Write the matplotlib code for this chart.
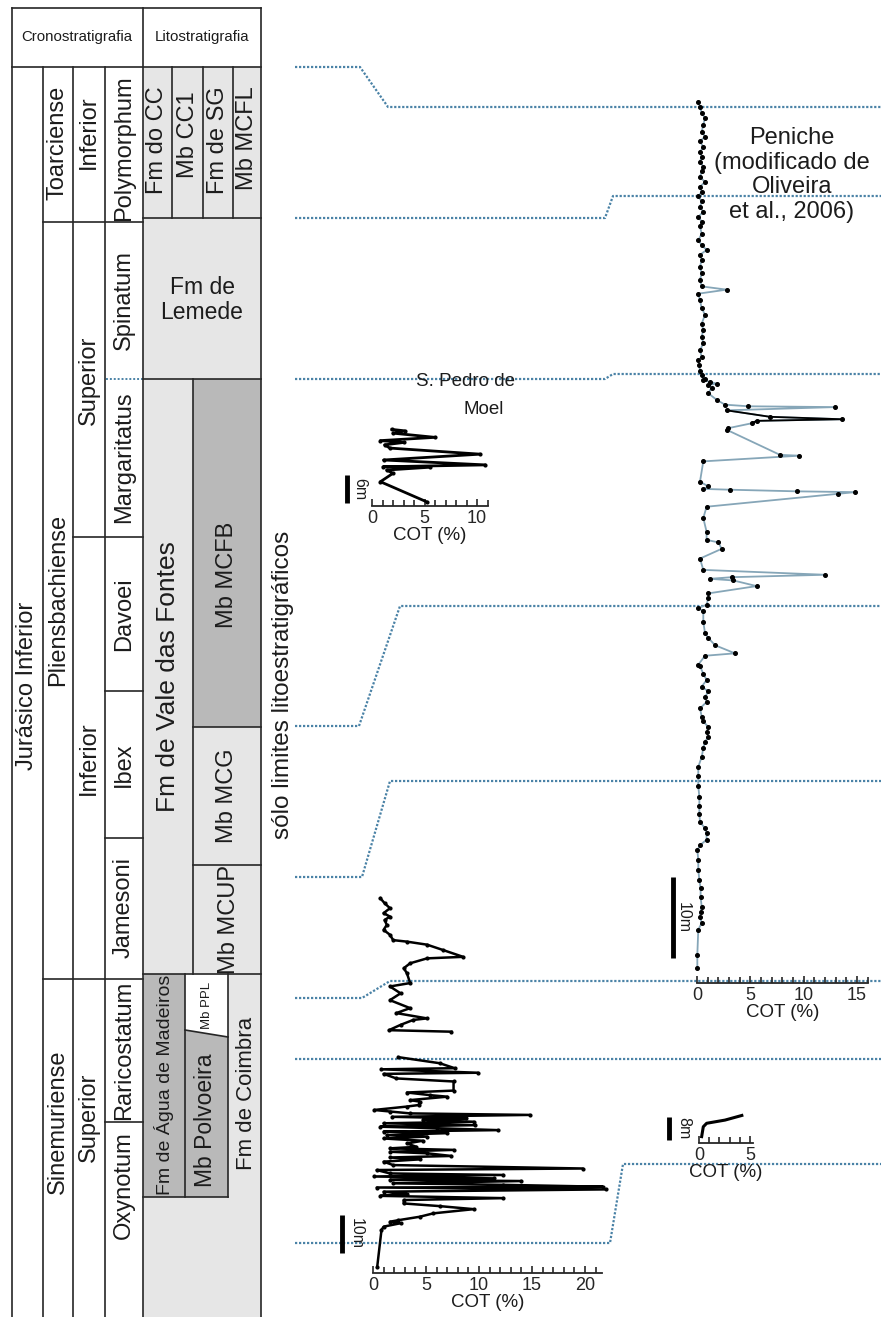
import numpy as np
import matplotlib
matplotlib.use('Agg')
import matplotlib.pyplot as plt
from matplotlib.patches import Rectangle, Polygon
from matplotlib.ticker import MultipleLocator

plt.rcParams['font.family'] = ['Liberation Sans', 'DejaVu Sans']

# ---------------- DATA ----------------
# S. Pedro de Moel, Pliensbachian interval (small profile): height (m), COT (%)
spm_plb_h = [0.9, 5.2, 7.0, 7.7, 8.3, 8.4, 8.8, 9.85, 11.1, 12.4, 13.1, 13.6, 14.0, 14.7, 15.6, 16.1, 16.4]
spm_plb_cot = [5.2, 0.8, 2.0, 1.4, 5.5, 1.05, 10.8, 1.1, 10.3, 1.7, 1.2, 3.0, 0.8, 6.0, 2.0, 3.1, 1.9]

# S. Pedro de Moel, Jamesoni interval: height (m), COT (%)
spm_jam_h = [98.6, 97.3, 96.0, 94.7, 93.8, 92.9, 91.6, 90.3, 89.0, 87.6, 87.2, 86.4, 85.0, 83.2,
             82.8, 81.5, 80.2, 78.9, 76.3, 75.4, 73.6, 71.8, 69.7, 68.4, 67.0, 66.6, 65.3, 63.9, 63.5]
spm_jam_cot = [0.7, 1.1, 1.6, 1.0, 1.6, 1.1, 1.3, 1.0, 1.6, 1.9, 3.2, 5.1, 6.6, 8.5,
               5.1, 3.5, 2.9, 3.2, 3.5, 1.6, 2.6, 1.6, 3.5, 2.2, 5.1, 3.8, 2.6, 1.5, 7.4]

# S. Pedro de Moel, Sinemurian interval: height (m), COT (%)
spm_sin_h = [56.8, 55.2, 53.9, 53.6, 52.7, 52.4, 51.2, 50.4, 48.0, 47.5, 46.8, 46.4, 45.5, 45.1,
             44.2, 43.8, 42.9, 42.5, 42.0, 41.6, 41.1, 40.7, 40.3, 39.8, 39.4, 38.9, 38.5, 38.1,
             37.6, 37.2, 36.8, 36.3, 35.9, 35.4, 34.8, 34.1, 33.2, 32.8, 32.4, 31.9, 31.5, 30.8,
             30.4, 29.9, 29.3, 28.4, 27.5, 27.1, 26.2, 25.8, 25.4, 24.9, 24.5, 24.2, 23.6, 23.2,
             22.7, 22.5, 22.0, 21.4, 20.8, 20.3, 19.7, 19.2, 18.3, 17.6, 16.8, 15.7, 14.8, 13.9,
             13.5, 13.1, 12.2, 11.3, 1.7]
spm_sin_cot = [2.4, 6.3, 7.7, 0.8, 9.9, 1.0, 2.2, 7.6, 7.6, 3.2, 5.4, 7.0, 3.5, 4.4,
               4.3, 3.2, 0.1, 1.6, 3.5, 14.8, 1.8, 8.8, 4.7, 9.5, 1.0, 9.6, 0.7, 6.0,
               11.8, 1.0, 7.0, 1.3, 5.1, 1.0, 4.7, 3.2, 4.1, 1.6, 7.6, 1.6, 5.1, 7.4,
               1.6, 4.4, 1.0, 1.9, 19.8, 0.35, 1.6, 12.3, 0.1, 11.4, 1.6, 14.0, 1.9, 12.3,
               21.7, 0.35, 22.0, 1.0, 3.2, 0.7, 12.3, 2.9, 2.9, 6.3, 9.5, 5.7, 4.4, 2.4,
               1.6, 2.6, 1.0, 0.8, 0.4]

# Peniche (modified from Oliveira et al., 2006): height (m), COT (%)
pen_h = [108.8, 108.2, 107.4, 106.8, 105.9, 105.1, 104.5, 103.9, 103.2, 102.6, 102.0, 101.4, 100.8,
         100.2, 99.5, 98.9, 98.3, 97.7, 97.1, 96.5, 95.8, 95.2, 94.6, 94.0, 93.4, 92.5, 91.7, 91.1,
         90.5, 89.9, 89.3, 88.4, 87.6, 86.8, 86.0, 85.6, 85.1, 84.3, 83.3, 82.5, 81.4, 80.6, 79.8,
         79.0, 78.1, 77.3, 76.9, 76.3, 75.5, 75.1, 74.6, 74.4, 74.2, 74.0, 73.8, 73.5, 72.8, 72.0,
         71.4, 71.2, 71.1, 70.7, 69.9, 69.6, 69.4, 69.1, 68.5, 68.3, 65.2, 65.1, 64.4, 61.9, 61.3,
         61.0, 60.9, 60.7, 60.6, 60.4, 58.8, 57.4, 55.7, 54.7, 54.4, 53.6, 52.4, 51.0, 50.4, 50.1,
         49.9, 49.7, 49.0, 48.1, 47.5, 46.7, 46.3, 45.9, 44.6, 43.2, 42.6, 41.7, 40.7, 40.4, 39.3,
         39.1, 38.2, 37.4, 36.6, 36.0, 35.3, 34.7, 33.9, 32.9, 32.3, 31.6, 31.0, 30.4, 29.8, 29.0,
         27.9, 26.7, 25.5, 24.3, 23.0, 21.8, 20.9, 19.9, 19.1, 18.5, 17.7, 17.0, 16.4, 15.2, 14.0,
         12.7, 11.7, 10.6, 9.4, 8.8, 8.2, 7.4, 6.6, 3.5, 1.8]
pen_cot = [0.12, 0.28, 0.44, 0.75, 0.59, 0.44, 0.75, 0.28, 0.59, 0.28, 0.44, 0.28, 0.59,
           0.44, 0.28, 0.75, 0.28, 0.44, 0.12, 0.44, 0.28, 0.59, 0.12, 0.44, 0.28, 0.44, 0.12, 0.44,
           0.9, 0.28, 0.44, 0.28, 0.44, 0.28, 0.44, 2.78, 0.12, 0.28, 0.44, 0.75, 0.44, 0.59, 0.44,
           0.59, 0.28, 0.44, 0.12, 0.22, 0.28, 0.44, 0.75, 0.59, 1.22, 1.84, 1.06, 1.37, 1.06, 1.84,
           2.62, 4.81, 12.93, 2.78, 6.84, 13.56, 5.59, 5.12, 2.94, 2.78, 7.78, 9.59, 0.59, 0.28, 1.06,
           0.59, 3.09, 9.34, 14.8, 13.25, 0.9, 0.59, 0.9, 0.9, 2.0, 2.31, 0.28, 0.59, 12.0, 3.25,
           1.22, 3.4, 5.59, 1.06, 1.06, 0.9, 0.12, 0.59, 0.59, 0.75, 1.06, 1.69, 3.56, 0.75, 0.12,
           0.28, 0.59, 0.9, 0.44, 1.06, 0.75, 0.9, 0.28, 0.44, 0.59, 1.06, 0.9, 1.06, 0.75, 0.59,
           0.44, 0.12, 0.12, 0.12, 0.22, 0.22, 0.22, 0.28, 0.75, 0.9, 0.9, 0.28, 0.03, 0.12, 0.12,
           0.22, 0.34, 0.34, 0.44, 0.34, 0.28, 0.44, 0.12, 0.03, 0.03]
# portion of the Peniche curve drawn in black in the original
pen_black = slice(61, 66)

# Small third profile (8 m scale): height (m), COT (%)
sm_h = [2.2, 5.6, 6.8, 7.1, 7.9, 9.5]
sm_cot = [0.26, 0.42, 0.75, 1.24, 2.55, 4.2]

cot_ticks = [0, 5, 10, 15, 20]

# chronostratigraphy / lithostratigraphy labels
chrono_labels = ["Jurásico Inferior", "Toarciense", "Pliensbachiense", "Sinemuriense",
                 "Inferior", "Superior", "Inferior", "Superior",
                 "Polymorphum", "Spinatum", "Margaritatus", "Davoei", "Ibex", "Jamesoni",
                 "Raricostatum", "Oxynotum"]
litho_labels = ["Fm do CC", "Mb CC1", "Fm de SG", "Mb MCFL", "Fm de Vale das Fontes",
                "Mb MCFB", "Mb MCG", "Mb MCUP", "Fm de Água de Madeiros", "Mb PPL",
                "Mb Polvoeira", "Fm de Coimbra"]

# ---------------- LAYOUT ----------------
W, H = 881, 1317
fig = plt.figure(figsize=(W / 100, H / 100), dpi=100)
base = fig.add_axes([0, 0, 1, 1])
base.set_xlim(0, W)
base.set_ylim(H, 0)
base.axis('off')

LINE = '#262626'
LIGHT = '#e6e6e6'
DARK = '#b9b9b9'
TXT = '#1c1c1c'
CORR = '#4a82a6'

chrono_pos = [(27, 686), (58, 143), (58, 600), (58, 1122),
              (89, 132), (89, 380), (89, 758), (89, 1117),
              (124, 148), (124, 300), (124, 457), (124, 614), (124, 765), (124, 908),
              (124, 1050), (124, 1185)]
litho_pos = [(157, 140), (188, 135), (218, 140), (247, 138), (168, 677),
             (227, 575), (227, 796), (229, 920), (164, 1085), (207, 1005),
             (206, 1120), (246, 1093)]
litho_fs = [17, 17, 17, 17, 19, 17, 17, 17, 14, 9.5, 16.5, 16]

# fills
fills = [((143, 67, 118, 151), LIGHT), ((143, 218, 118, 161), LIGHT),
         ((143, 379, 50, 595), LIGHT), ((193, 379, 68, 348), DARK),
         ((193, 727, 68, 138), LIGHT), ((193, 865, 68, 109), LIGHT),
         ((143, 974, 118, 343), LIGHT), ((143, 974, 42, 223), DARK)]
for (x, y, w, h), c in fills:
    base.add_patch(Rectangle((x, y), w, h, facecolor=c, edgecolor='none', zorder=1))
base.add_patch(Polygon([(185, 1030), (228, 1037), (228, 1197), (185, 1197)], closed=True,
                       facecolor=DARK, edgecolor='none', zorder=1))
base.add_patch(Polygon([(185, 974), (228, 974), (228, 1037), (185, 1030)], closed=True,
                       facecolor='white', edgecolor='none', zorder=1))

hlines = [(8, 12, 261), (67, 12, 261), (222, 43, 143), (218, 143, 261), (537, 73, 143),
          (691, 105, 143), (838, 105, 143), (979, 43, 143), (1122, 105, 143),
          (379, 143, 261), (727, 193, 261), (865, 193, 261), (974, 143, 261), (1197, 143, 228)]
vlines = [(12, 8, H), (43, 67, H), (73, 67, H), (105, 67, H), (143, 8, H), (261, 8, H),
          (172, 67, 218), (203, 67, 218), (233, 67, 218), (193, 379, 974),
          (185, 974, 1197), (228, 974, 1197)]
for y, x1, x2 in hlines:
    base.plot([x1, x2], [y, y], color=LINE, lw=1.2, zorder=3, solid_capstyle='projecting')
for x, y1, y2 in vlines:
    base.plot([x, x], [y1, y2], color=LINE, lw=1.2, zorder=3, solid_capstyle='projecting')
base.plot([185, 228], [1030, 1037], color=LINE, lw=1.2, zorder=3)
base.plot([106, 142], [379, 379], color=CORR, lw=1.4, ls=(0, (1, 1)), zorder=3)

hdr_font = ['Liberation Sans Narrow', 'Liberation Sans', 'DejaVu Sans']
base.text(77, 37, "Cronostratigrafia", ha='center', va='center', fontsize=10.8,
          family=hdr_font, color=TXT, zorder=4)
base.text(202, 37, "Litostratigrafia", ha='center', va='center', fontsize=10.8,
          family=hdr_font, color=TXT, zorder=4)

for s, (x, y) in zip(chrono_labels, chrono_pos):
    base.text(x, y, s, rotation=90, ha='center', va='center', fontsize=17, color=TXT, zorder=4)
for s, (x, y), fs in zip(litho_labels, litho_pos, litho_fs):
    base.text(x, y, s, rotation=90, ha='center', va='center', fontsize=fs, color=TXT, zorder=4)
base.text(202, 300, "Fm de\nLemede", ha='center', va='center', fontsize=16.5,
          linespacing=1.1, color=TXT, zorder=4)
base.text(283, 685, "sólo limites litoestratigráficos", rotation=90, ha='center',
          va='center', fontsize=17.5, color=TXT, zorder=4)

# correlation (dotted) lines
corr_lines = [
    [(295, 67), (360, 67), (388, 107), (W, 107)],
    [(295, 218), (605, 218), (613, 196), (W, 196)],
    [(295, 379), (605, 379), (613, 374), (W, 374)],
    [(295, 726), (359, 726), (400, 606), (W, 606)],
    [(295, 877), (362, 877), (390, 781), (W, 781)],
    [(295, 998), (362, 998), (390, 981), (W, 981)],
    [(295, 1059), (W, 1059)],
    [(295, 1243), (610, 1243), (623, 1164), (W, 1164)],
]
for ln in corr_lines:
    xs, ys = zip(*ln)
    base.plot(xs, ys, color=CORR, lw=1.6, ls=(0, (1, 0.8)), zorder=2)

# titles
base.text(465, 381, "S. Pedro de", ha='center', va='center', fontsize=13.5, color=TXT, zorder=4)
base.text(484, 410, "Moel", ha='center', va='center', fontsize=13.5, color=TXT, zorder=4)
base.text(792, 175, "Peniche\n(modificado de\nOliveira\net al., 2006)", ha='center',
          va='center', multialignment='center', fontsize=17, linespacing=1.15,
          color=TXT, zorder=4)


def px_axes(x0, y0, sx, sy, xmax, ymax):
    ax = fig.add_axes([x0 / W, (H - y0) / H, xmax * sx / W, ymax * sy / H])
    ax.set_xlim(0, xmax)
    ax.set_ylim(0, ymax)
    ax.patch.set_alpha(0)
    for s in ['top', 'right', 'left']:
        ax.spines[s].set_visible(False)
    ax.spines['bottom'].set_linewidth(1.3)
    ax.spines['bottom'].set_color(LINE)
    ax.set_yticks([])
    ax.set_xticks([t for t in cot_ticks if t <= xmax])
    ax.xaxis.set_minor_locator(MultipleLocator(1))
    ax.tick_params(axis='x', which='major', direction='in', length=5, width=1.2,
                   labelsize=13, pad=3, colors=LINE)
    ax.tick_params(axis='x', which='minor', direction='in', length=4, width=1.2, colors=LINE)
    ax.set_xlabel('COT (%)', fontsize=13.5, labelpad=0, color=TXT)
    return ax


def scale_bar(ax, x, h0, length, label, tx):
    ax.plot([x, x], [h0, h0 + length], color='k', lw=3.5, solid_capstyle='butt', clip_on=False)
    ax.text(tx, h0 + length / 2, label, rotation=270, ha='center', va='center',
            fontsize=11.5, color=TXT, clip_on=False)


# S. Pedro de Moel small (Pliensbachian)
ax1 = px_axes(372, 506, 10.5, 4.67, 11, 18)
ax1.plot(spm_plb_cot, spm_plb_h, color='k', lw=2, marker='o', ms=2, clip_on=False)
scale_bar(ax1, -2.4, 0.64, 6, "6m", -1.15)

# S. Pedro de Moel main
ax2 = px_axes(373, 1273, 10.6, 3.8, 21.6, 101)
ax2.plot(spm_jam_cot, spm_jam_h, color='k', lw=1.8, marker='o', ms=2, clip_on=False)
ax2.plot(spm_sin_cot, spm_sin_h, color='k', lw=1.8, marker='o', ms=2, clip_on=False)
scale_bar(ax2, -2.9, 5.3, 10, "10m", -1.6)

# Peniche
ax3 = px_axes(697, 983, 10.67, 8.1, 16, 110)
ax3.plot(pen_cot, pen_h, color='#86a6b8', lw=1.3, clip_on=False, zorder=2)
ax3.plot(pen_cot[pen_black], pen_h[pen_black], color='k', lw=1.3, clip_on=False, zorder=2)
ax3.plot(pen_cot, pen_h, ls='none', marker='o', ms=2.6, mfc='k', mec='k', clip_on=False, zorder=3)
scale_bar(ax3, -2.25, 3.1, 10, "10m", -1.3)

# small third profile
ax4 = px_axes(699, 1143, 10.2, 2.9, 5.3, 12)
ax4.plot(sm_cot, sm_h, color='k', lw=2.2, clip_on=False)
scale_bar(ax4, -2.9, 1.0, 8, "8m", -1.5)

fig.savefig('out.png', dpi=100)
